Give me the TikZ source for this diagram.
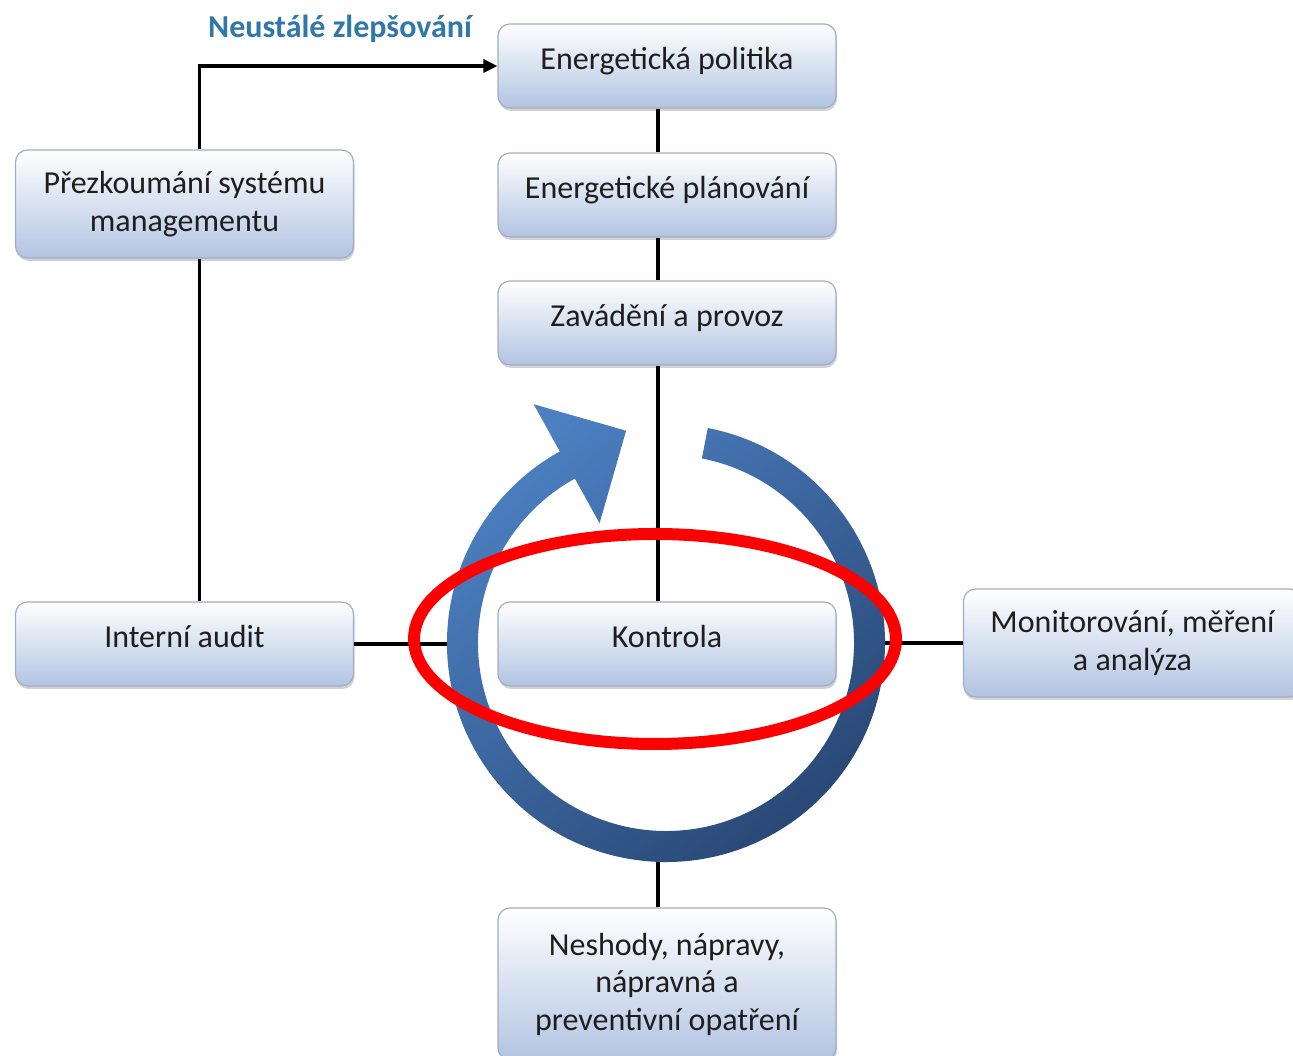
\documentclass[tikz,border=0pt]{standalone}
\usepackage{fontspec}
\setmainfont{Carlito}
\usetikzlibrary{arrows.meta,shadows,calc}
\definecolor{txt}{RGB}{30,30,30}
\definecolor{boxbot}{RGB}{178,196,226}
\definecolor{boxline}{RGB}{160,174,198}
\definecolor{headblue}{RGB}{48,120,170}
\definecolor{ringlight}{RGB}{76,128,194}
\definecolor{ringdark}{RGB}{40,70,115}
\definecolor{redring}{RGB}{255,0,0}
\begin{document}
\begin{tikzpicture}[x=1pt,y=1pt,
  box/.style={rounded corners=12pt, draw=boxline, line width=1.2pt,
    top color=white, bottom color=boxbot,
    minimum width=338pt, minimum height=84pt, align=center,
    font=\fontsize{32}{37.5}\selectfont, text=txt,
    drop shadow={shadow xshift=1pt, shadow yshift=-3pt, opacity=0.35, fill=gray}},
  oneline/.style={text height=24pt, text depth=17pt},
  conn/.style={line width=3.5pt, black}]
\useasboundingbox (0,0) rectangle (1293,1056);
\fill[white] (0,0) rectangle (1293,1056);

% boxes
\node[box, oneline] (pol)   at (667,990) {Energetická politika};
\node[box, oneline] (plan)  at (667,861) {Energetické plánování};
\node[box, oneline] (zav)   at (667,733) {Zavádění a provoz};
\node[box, oneline] (kon)   at (667,412) {Kontrola};
\node[box, minimum height=152pt] (nesh) at (667,72) {Neshody, nápravy,\\nápravná a\\preventivní opatření};
\node[box, minimum height=108pt] (prez) at (184.5,852) {Přezkoumání systému\\managementu};
\node[box, oneline] (audit) at (184.5,412) {Interní audit};
\node[box, minimum height=108pt] (mon) at (1132.5,413) {Monitorování, měření\\a analýza};

\node[font=\bfseries\fontsize{32}{36}\selectfont, text=headblue] (head) at (340,1027) {Neustálé zlepšování};

% ring coordinates
\coordinate (C) at (666,413);
\coordinate (ringbot) at (658,194);
\coordinate (ringL) at (447,412);
\coordinate (ringR) at (885,413);

% connectors
\draw[conn] ([xshift=-9pt]pol.south) -- ([xshift=-9pt]plan.north);
\draw[conn] ([xshift=-9pt]plan.south) -- ([xshift=-9pt]zav.north);
\draw[conn] ([xshift=-9pt]zav.south) -- ([xshift=-9pt]kon.north);
\draw[conn] (ringbot) -- ([xshift=-9pt]nesh.north);
\draw[conn] (audit.east) -- (ringL);
\draw[conn] (ringR) -- (mon.west);
\draw[conn] ([xshift=15pt]prez.south) -- ([xshift=15pt]audit.north);
\draw[conn, -{Triangle[length=14pt,width=13pt]}] ([xshift=15pt]prez.north) |- (pol.west);

% circular arrow
\begin{scope}[shift={(666,413)}]
\shade[top color=ringlight, bottom color=ringdark, shading angle=40]
  (79:219pt) arc[start angle=79, end angle=-241, radius=219pt]
  -- (-241:273pt) -- ($(-241:205pt)+(29:68pt)$) -- (-241:137pt)
  -- (-241:188pt) arc[start angle=-241, end angle=79, radius=188pt] -- cycle;
\end{scope}

% red ellipse
\draw[redring, line width=12pt] (655,417) ellipse[x radius=241pt, y radius=105pt];
\end{tikzpicture}
\end{document}
